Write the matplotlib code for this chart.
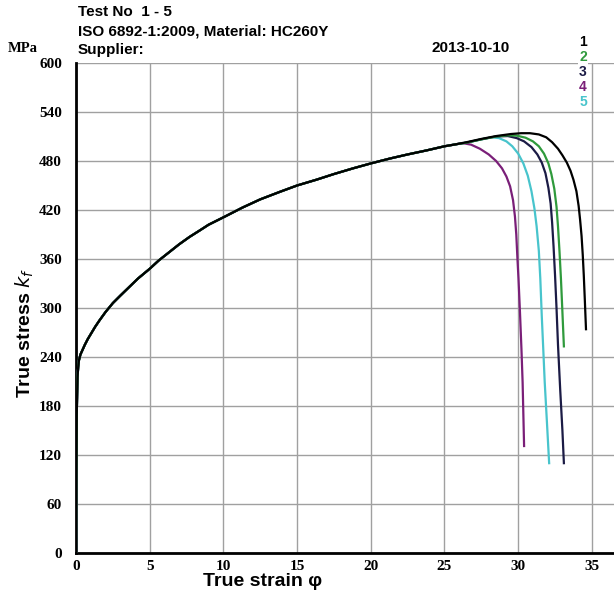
import matplotlib
matplotlib.use("Agg")
import matplotlib.pyplot as plt

# shared hardening region (all specimens)
base_strain = [0.0, 0.02, 0.05, 0.1, 0.15, 0.2, 0.3, 0.45, 0.6, 0.8, 1.0, 1.3, 1.6, 2.0, 2.5,
               3.0, 3.4, 4.2, 5.0, 5.6, 6.3, 7.0, 7.7, 8.4, 9.0, 10.0, 11.3, 12.5, 13.8, 15.0,
               16.3, 17.5, 18.8, 20.0, 21.3, 22.5, 23.8, 25.0, 25.8]
base_stress = [0, 90, 170, 215, 228, 236, 243, 249, 255, 262, 268, 277, 285, 295, 306,
               315, 322, 336, 348, 358, 368, 378, 387, 395, 402, 411, 423, 433, 442, 450,
               457, 464, 471, 477, 483, 488, 493, 498, 500.5]

# specimen tails
s1_strain = [26.5, 27.5, 28.5, 29.5, 30.2, 30.8, 31.4, 31.9, 32.3, 32.7, 33.0, 33.3, 33.55,
             33.75, 33.95, 34.1, 34.2, 34.3, 34.38, 34.45, 34.52, 34.6]
s1_stress = [503, 507, 510.5, 513, 514, 514, 512.5, 509, 503, 495, 487, 478, 468,
             457, 443, 425, 408, 388, 365, 340, 310, 274]
s2_strain = [26.5, 27.5, 28.5, 29.3, 29.9, 30.5, 31.0, 31.4, 31.75, 32.05, 32.25, 32.45,
             32.6, 32.7, 32.8, 32.9, 33.0, 33.1]
s2_stress = [502.5, 506.5, 510, 511.5, 511, 508.5, 504, 498, 489, 477, 464, 446,
             424, 400, 370, 336, 295, 253]
s3_strain = [26.5, 27.5, 28.5, 29.3, 29.9, 30.4, 30.9, 31.3, 31.6, 31.85, 32.05, 32.2,
             32.3, 32.4, 32.5, 32.6, 32.7, 32.85, 33.0, 33.1]
s3_stress = [502.5, 506.5, 510, 510.5, 508, 504, 497, 488, 478, 465, 447, 428,
             405, 375, 340, 300, 255, 200, 150, 110]
s4_strain = [26.2, 26.8, 27.4, 28.0, 28.5, 28.9, 29.2, 29.45, 29.65, 29.78, 29.87, 29.95,
             30.02, 30.12, 30.22, 30.3, 30.35, 30.4]
s4_stress = [502, 500, 495, 488, 480, 471, 461, 449, 432, 412, 390, 360,
             336, 295, 250, 209, 170, 131]
s5_strain = [26.5, 27.5, 28.2, 28.7, 29.2, 29.6, 30.0, 30.35, 30.65, 30.9, 31.1, 31.25,
             31.4, 31.5, 31.6, 31.7, 31.8, 31.95, 32.1]
s5_stress = [502.5, 506.5, 509, 508, 504, 498, 489, 477, 462, 443, 422, 400,
             370, 336, 290, 250, 209, 160, 110]

labels = ["1", "2", "3", "4", "5"]
colors = ["#000000", "#2f9a3c", "#1b1b45", "#7a1f78", "#48c4cc"]
x_ticks = [0, 5, 10, 15, 20, 25, 30, 35]
y_ticks = [0, 60, 120, 180, 240, 300, 360, 420, 480, 540, 600]

tails = [(s1_strain, s1_stress), (s2_strain, s2_stress), (s3_strain, s3_stress),
         (s4_strain, s4_stress), (s5_strain, s5_stress)]

fig = plt.figure(figsize=(6.14, 5.94), dpi=100)
ax = fig.add_axes([0.1238, 0.069, 1 - 0.1238, 0.894 - 0.069])

order = [4, 3, 2, 1, 0]
for i in order:
    xs, ys = tails[i]
    bx = [v for v in base_strain if v < xs[0]]
    by = base_stress[:len(bx)]
    ax.plot(list(bx) + list(xs), list(by) + list(ys), color=colors[i], lw=1.6,
            solid_joinstyle="round", zorder=3 + (4 - i))

ax.set_xlim(0, 36.5)
ax.set_ylim(0, 600)
ax.set_xticks(x_ticks)
ax.set_yticks(y_ticks)
ax.grid(True, color="#a0a0a0", lw=1.0)
ax.set_axisbelow(True)
for s in ["top", "right"]:
    ax.spines[s].set_visible(False)
ax.spines["left"].set_linewidth(2.0)
ax.spines["bottom"].set_linewidth(2.0)
ax.tick_params(length=0, pad=4)
for lab in ax.get_xticklabels() + ax.get_yticklabels():
    lab.set_fontfamily("Liberation Serif")
    lab.set_fontweight("bold")
    lab.set_fontsize(11)
ax.tick_params(axis="x", pad=5)
ax.tick_params(axis="y", pad=10)

sans = "Liberation Sans"
fig.text(78 / 614, 1 - 12 / 594, "Test No  1 - 5", fontfamily=sans, fontsize=11,
         fontweight="bold", va="center", ha="left")
fig.text(78 / 614, 1 - 31 / 594, "ISO 6892-1:2009, Material: HC260Y", fontfamily=sans,
         fontsize=11, fontweight="bold", va="center", ha="left")
fig.text(78 / 614, 1 - 50 / 594, "Supplier:", fontfamily=sans, fontsize=11,
         fontweight="bold", va="center", ha="left")
fig.text(8 / 614, 1 - 49 / 594, "MPa", fontfamily="Liberation Serif", fontsize=10.5,
         fontweight="bold", va="center", ha="left")
fig.text(432 / 614, 1 - 48 / 594, "2013-10-10", fontfamily=sans, fontsize=11,
         fontweight="bold", va="center", ha="left")

ys_leg = [42, 57, 72, 87, 102]
for lab, c, y in zip(labels, colors, ys_leg):
    fig.text(583 / 614, 1 - y / 594, lab, color=c, fontfamily=sans, fontsize=10,
             fontweight="bold", va="center", ha="center",
             bbox=dict(facecolor="white", edgecolor="none", pad=0.5))

fig.text(263 / 614, 1 - 582 / 594, "True strain \u03c6", fontfamily=sans, fontsize=14,
         fontweight="bold", va="center", ha="center")
fig.text(25 / 614, 1 - 333 / 594, "True stress $\\mathit{k}_{\\mathit{f}}$", fontfamily=sans,
         fontsize=14, fontweight="bold", va="center", ha="center", rotation=90)

fig.savefig("out.png", dpi=100)
